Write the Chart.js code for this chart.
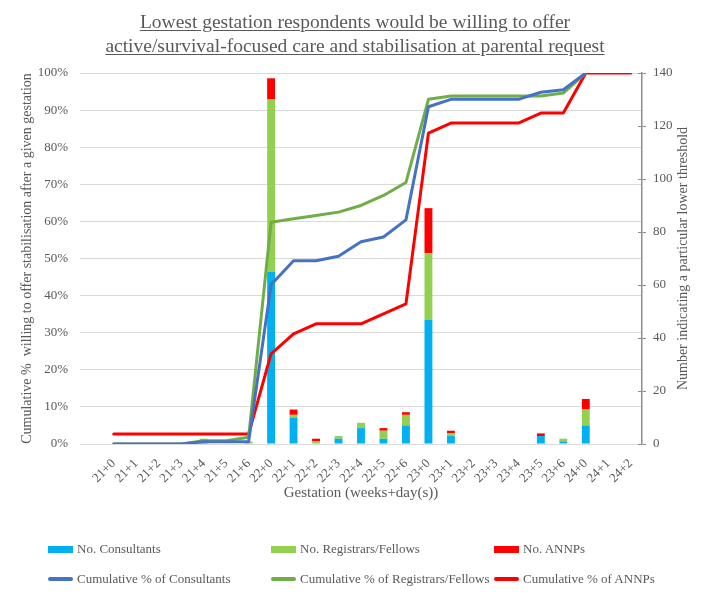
<!DOCTYPE html>
<html>
<head>
<meta charset="utf-8">
<script src="https://cdn.jsdelivr.net/npm/chart.js@4.4.0/dist/chart.umd.min.js"></script>
<style>
  body { margin: 0; background: #fff; }
  #wrap { position: relative; width: 710px; height: 593px; font-family: "Liberation Serif", "Times New Roman", serif; color: #595959; }
  #chart { position: absolute; left: 0; top: 0; }
  #title { position: absolute; top: 10px; left: 0; width: 710px; text-align: center; font-size: 19.5px; line-height: 24px; text-decoration: underline; text-underline-offset: 2px; }
  .item { position: absolute; font-size: 13px; white-space: nowrap; display: flex; align-items: center; height: 16px; }
  .swatch { width: 25px; margin-right: 4px; }
</style>
</head>
<body>
<div id="wrap">
  <canvas id="chart" width="710" height="593"></canvas>
  <div id="title">Lowest gestation respondents would be willing to offer<br>active/survival-focused care and stabilisation at parental request</div>
  <div id="legend"></div>
</div>
<script>
// Kategorier (første er tom, som i originalen)
const labels = ['', '21+0', '21+1', '21+2', '21+3', '21+4', '21+5', '21+6',
  '22+0', '22+1', '22+2', '22+3', '22+4', '22+5', '22+6',
  '23+0', '23+1', '23+2', '23+3', '23+4', '23+5', '23+6',
  '24+0', '24+1', '24+2'];

// Antall per gestasjon (høyre akse)
const consultants = [null, null, null, null, null, 1, null, null, 65, 10, null, 2, 6, 2, 7, 47, 3, null, null, null, 3, 1, 7, null, null];
const registrars = [null, null, null, null, null, 1, null, 1, 65, 1, 1, 1, 2, 3, 4, 25, 1, null, null, null, null, 1, 6, null, null];
const annps = [null, null, null, null, null, null, null, null, 8, 2, 1, null, null, 1, 1, 17, 1, null, null, null, 1, null, 4, null, null];

// Kumulativ prosent (venstre akse)
const cumConsultants = [null, 0, 0, 0, 0, 0.6, 0.6, 0.6, 42.9, 49.4, 49.4, 50.6, 54.5, 55.8, 60.4, 90.9, 92.9, 92.9, 92.9, 92.9, 94.8, 95.5, 100, null, null];
const cumRegistrars = [null, 0, 0, 0, 0, 0.9, 0.9, 1.8, 59.8, 60.7, 61.6, 62.5, 64.3, 67.0, 70.5, 92.9, 93.8, 93.8, 93.8, 93.8, 93.8, 94.6, 100, null, null];
const cumAnnps = [null, 2.7, 2.7, 2.7, 2.7, 2.7, 2.7, 2.7, 24.3, 29.7, 32.4, 32.4, 32.4, 35.1, 37.8, 83.8, 86.5, 86.5, 86.5, 86.5, 89.2, 89.2, 100, 100, 100];

const leftTicks = [0, 10, 20, 30, 40, 50, 60, 70, 80, 90, 100];
const rightTicks = [0, 20, 40, 60, 80, 100, 120, 140];

const serif = '"Liberation Serif", "Times New Roman", serif';
const grey = '#595959';
const axisGrey = '#8c8c8c';
const rightTitleText = 'Number indicating a particular lower threshold';

Chart.defaults.font.family = serif;
Chart.defaults.color = grey;

// Høyre akse: tittel nedenfra og opp, og tick-streker på innsiden også
const rightAxisExtras = {
  id: 'rightAxisExtras',
  afterDraw(chart) {
    const s = chart.scales.y1;
    const c = chart.ctx;
    c.save();
    c.strokeStyle = axisGrey;
    c.lineWidth = 1;
    s.ticks.forEach(t => {
      const y = Math.round(s.getPixelForValue(t.value)) + 0.5;
      c.beginPath();
      c.moveTo(s.left - 4, y);
      c.lineTo(s.left, y);
      c.stroke();
    });
    c.translate(683, (s.top + s.bottom) / 2);
    c.rotate(-Math.PI / 2);
    c.font = '14px ' + serif;
    c.fillStyle = grey;
    c.textAlign = 'center';
    c.textBaseline = 'middle';
    c.fillText(rightTitleText, 0, 0);
    c.restore();
  }
};

function lineSet(label, data, color) {
  return {
    type: 'line', label: label, data: data, yAxisID: 'y', order: 1,
    borderColor: color, backgroundColor: color, borderWidth: 3,
    pointRadius: 0, tension: 0, borderJoinStyle: 'round', borderCapStyle: 'round'
  };
}

const ctx = document.getElementById('chart').getContext('2d');
const chart = new Chart(ctx, {
  type: 'bar',
  data: {
    labels: labels,
    datasets: [
      { label: 'No. Consultants', data: consultants, backgroundColor: '#00B0F0', yAxisID: 'y1', order: 2 },
      { label: 'No. Registrars/Fellows', data: registrars, backgroundColor: '#92D050', yAxisID: 'y1', order: 2 },
      { label: 'No. ANNPs', data: annps, backgroundColor: '#FF0000', yAxisID: 'y1', order: 2 },
      lineSet('Cumulative % of Consultants', cumConsultants, '#4472C4'),
      lineSet('Cumulative % of Registrars/Fellows', cumRegistrars, '#70AD47'),
      lineSet('Cumulative % of ANNPs', cumAnnps, '#FF0000')
    ]
  },
  options: {
    responsive: false,
    animation: false,
    layout: { padding: { top: 73, bottom: 90, left: 0, right: 0 } },
    plugins: { legend: { display: false }, tooltip: { enabled: false } },
    datasets: { bar: { barPercentage: 0.35, categoryPercentage: 1 } },
    scales: {
      x: {
        stacked: true,
        grid: { display: false },
        border: { display: true, color: '#d9d9d9' },
        ticks: { autoSkip: false, minRotation: 45, maxRotation: 45, font: { size: 13 }, padding: 4 },
        title: { display: true, text: 'Gestation (weeks+day(s))', font: { size: 15 }, padding: { top: 0, bottom: 1 } },
        afterFit: s => { s.height = 59; }
      },
      y: {
        position: 'left', min: 0, max: 100,
        afterBuildTicks: s => { s.ticks = leftTicks.map(v => ({ value: v })); },
        ticks: { callback: v => v + '%', font: { size: 13 }, padding: 12 },
        grid: { color: '#d9d9d9', drawTicks: false },
        border: { display: false },
        title: { display: true, text: 'Cumulative %  willing to offer stabilisation after a given gestation', font: { size: 14 }, padding: { top: 19, bottom: 0 } },
        afterFit: s => { s.width = 80; }
      },
      y1: {
        position: 'right', stacked: true, min: 0, max: 140,
        afterBuildTicks: s => { s.ticks = rightTicks.map(v => ({ value: v })); },
        ticks: { font: { size: 13 }, padding: 7 },
        grid: { drawOnChartArea: false, color: axisGrey, tickLength: 4 },
        border: { color: axisGrey, width: 1.5 },
        afterFit: s => { s.width = 68; }
      }
    }
  },
  plugins: [rightAxisExtras]
});

// Egen forklaring i tre kolonner under diagrammet
const legendBox = document.getElementById('legend');
const colX = [48, 271, 494];
const rowY = [541, 571];
chart.data.datasets.forEach((ds, i) => {
  const item = document.createElement('div');
  item.className = 'item';
  item.style.left = colX[i % 3] + 'px';
  item.style.top = rowY[Math.floor(i / 3)] + 'px';
  const sw = document.createElement('span');
  sw.className = 'swatch';
  if (ds.type === 'line') {
    sw.style.height = '4px';
    sw.style.borderRadius = '2px';
    sw.style.background = ds.borderColor;
  } else {
    sw.style.height = '7px';
    sw.style.background = ds.backgroundColor;
  }
  item.appendChild(sw);
  item.appendChild(document.createTextNode(ds.label));
  legendBox.appendChild(item);
});
</script>
</body>
</html>
